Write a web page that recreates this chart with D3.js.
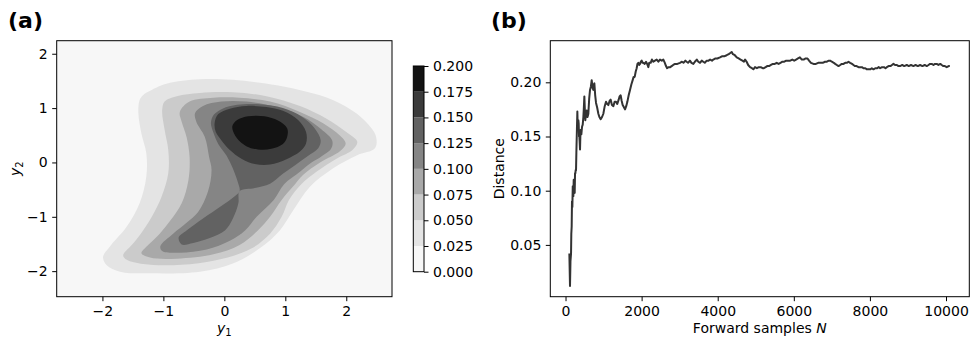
<!DOCTYPE html>
<html>
<head>
<meta charset="utf-8">
<script src="https://cdn.jsdelivr.net/npm/d3@7"></script>
<style>
  body { margin: 0; background: #fff; }
  text { font-family: "DejaVu Sans", sans-serif; }
</style>
</head>
<body>
<div id="container"></div>
<script>
const width = 971, height = 342;

/** -------------- DATA -------------- */

// contour levels of the density in panel (a)
const levels = [0, 0.025, 0.05, 0.075, 0.1, 0.125, 0.15, 0.175, 0.2];

// outline (y1, y2) of each filled level
const ring025 = [[-1.39,1.15],[-1.33,1.24],[-1.25,1.30],[-0.95,1.45],[-0.40,1.53],[0.14,1.52],[0.86,1.42],[1.35,1.30],[1.78,1.15],[2.17,0.90],[2.39,0.66],[2.49,0.47],[2.47,0.26],[2.17,0.13],[1.78,-0.11],[1.40,-0.45],[1.13,-0.88],[0.91,-1.25],[0.58,-1.58],[0.14,-1.86],[-0.40,-2.01],[-1.22,-2.04],[-1.71,-2.01],[-1.93,-1.89],[-1.99,-1.74],[-1.88,-1.55],[-1.60,-1.18],[-1.39,-0.75],[-1.28,-0.26],[-1.28,0.17],[-1.36,0.53],[-1.41,0.90]];
const ring050 = [[-0.98,0.60],[-1.02,0.96],[-0.98,1.12],[-0.78,1.22],[-0.40,1.28],[0.14,1.29],[0.69,1.22],[1.24,1.04],[1.67,0.81],[2.00,0.56],[2.18,0.38],[2.11,0.24],[1.84,0.07],[1.51,-0.17],[1.27,-0.39],[1.06,-0.69],[0.94,-1.00],[0.75,-1.31],[0.45,-1.58],[0.14,-1.72],[-0.29,-1.83],[-0.84,-1.89],[-1.33,-1.87],[-1.60,-1.79],[-1.66,-1.71],[-1.52,-1.52],[-1.37,-1.31],[-1.19,-1.00],[-1.03,-0.63],[-0.92,-0.20],[-0.92,0.23]];
const ring075 = [[-0.57,0.10],[-0.62,0.47],[-0.70,0.75],[-0.73,0.93],[-0.57,1.12],[-0.18,1.19],[0.25,1.19],[0.75,1.12],[1.24,0.93],[1.62,0.72],[1.89,0.50],[1.99,0.35],[1.90,0.21],[1.57,0.00],[1.29,-0.23],[1.13,-0.44],[0.94,-0.69],[0.75,-1.00],[0.55,-1.25],[0.25,-1.52],[-0.18,-1.69],[-0.78,-1.77],[-1.22,-1.75],[-1.36,-1.67],[-1.25,-1.52],[-1.06,-1.31],[-0.88,-1.06],[-0.70,-0.75],[-0.59,-0.33]];
const ring100 = [[-0.21,-0.14],[-0.25,0.10],[-0.32,0.47],[-0.46,0.75],[-0.48,0.91],[-0.35,1.04],[-0.05,1.12],[0.36,1.12],[0.86,1.02],[1.29,0.84],[1.59,0.61],[1.77,0.40],[1.75,0.25],[1.58,0.10],[1.43,0.00],[1.24,-0.17],[0.98,-0.40],[0.81,-0.69],[0.53,-1.00],[0.34,-1.25],[0.09,-1.44],[-0.29,-1.60],[-0.73,-1.66],[-1.02,-1.63],[-1.05,-1.54],[-0.84,-1.31],[-0.62,-1.11],[-0.43,-0.91],[-0.27,-0.54]];
const ring125 = [[0.25,-0.53],[0.22,-0.36],[0.14,-0.11],[0.04,0.12],[-0.10,0.34],[-0.18,0.55],[-0.22,0.73],[-0.17,0.88],[-0.03,0.99],[0.21,1.06],[0.58,1.07],[0.96,1.00],[1.27,0.84],[1.48,0.63],[1.58,0.41],[1.54,0.26],[1.37,0.12],[1.16,-0.05],[0.96,-0.21],[0.75,-0.39],[0.50,-0.47],[0.25,-0.53],[0.23,-0.75],[0.14,-1.03],[0.01,-1.25],[-0.24,-1.39],[-0.51,-1.48],[-0.70,-1.51],[-0.75,-1.38],[-0.62,-1.25],[-0.35,-1.03],[-0.05,-0.80],[0.17,-0.62]];
const ring150 = [[-0.16,0.72],[-0.10,0.89],[0.09,0.99],[0.36,1.04],[0.69,1.02],[0.96,0.95],[1.21,0.78],[1.34,0.56],[1.34,0.35],[1.24,0.20],[1.02,0.06],[0.75,-0.04],[0.50,-0.03],[0.28,0.07],[0.09,0.23],[-0.05,0.41],[-0.14,0.56]];
const ring175 = [[0.13,0.66],[0.21,0.78],[0.39,0.85],[0.66,0.85],[0.88,0.77],[1.03,0.63],[1.03,0.47],[0.96,0.34],[0.77,0.25],[0.55,0.24],[0.36,0.30],[0.21,0.44]];
const rings = [ring025, ring050, ring075, ring100, ring125, ring150, ring175];

const densityTicksX = [-2, -1, 0, 1, 2];
const densityTicksY = [-2, -1, 0, 1, 2];

// panel (b): distance against number of forward samples
const samplesN = [101,118,130,145,152,162,170,180,190,197,206,215,223,232,241,250,258,267,276,285,293,302,311,320,329,338,346,355,364,372,381,390,399,416,434,452,469,480,495,508,521,538,556,578,600,622,644,666,688,710,731,745,758,780,802,830,863,890,924,960,994,1030,1064,1095,1126,1160,1187,1220,1257,1290,1327,1360,1397,1420,1450,1475,1502,1535,1564,1595,1625,1660,1695,1730,1765,1790,1818,1845,1870,1890,1914,1936,1958,1980,2002,2025,2045,2080,2116,2145,2177,2200,2238,2270,2308,2350,2396,2440,2483,2530,2571,2610,2641,2670,2702,2750,2790,2830,2878,2940,3009,3060,3100,3150,3184,3220,3270,3310,3359,3400,3450,3490,3535,3580,3620,3660,3710,3760,3800,3850,3885,3940,3990,4060,4110,4170,4235,4290,4330,4367,4400,4450,4500,4550,4600,4650,4690,4720,4760,4800,4850,4900,4936,4980,5030,5080,5130,5180,5213,5260,5300,5350,5400,5450,5500,5550,5600,5650,5700,5750,5800,5850,5905,5960,6010,6060,6110,6160,6210,6260,6310,6360,6400,6450,6517,6580,6640,6700,6760,6820,6870,6920,6955,7000,7050,7087,7130,7175,7220,7260,7306,7350,7400,7437,7480,7530,7569,7610,7650,7700,7750,7790,7831,7880,7920,7963,8010,8050,8094,8140,8190,8230,8269,8320,8370,8410,8444,8490,8540,8580,8619,8660,8710,8750,8794,8850,8900,8969,9020,9080,9144,9200,9260,9319,9380,9440,9494,9540,9580,9625,9670,9710,9757,9800,9850,9888,9930,9970,10019,10070,10100];
const distance = [0.042,0.012,0.035,0.042,0.060,0.067,0.090,0.085,0.104,0.100,0.095,0.110,0.110,0.099,0.098,0.116,0.116,0.119,0.119,0.135,0.147,0.160,0.173,0.160,0.156,0.165,0.162,0.150,0.150,0.145,0.138,0.150,0.156,0.152,0.159,0.161,0.168,0.175,0.187,0.175,0.165,0.172,0.174,0.168,0.171,0.185,0.193,0.196,0.202,0.195,0.193,0.198,0.199,0.188,0.181,0.177,0.171,0.168,0.166,0.168,0.171,0.178,0.182,0.180,0.179,0.183,0.184,0.179,0.178,0.182,0.182,0.180,0.184,0.187,0.188,0.183,0.179,0.177,0.175,0.178,0.182,0.188,0.193,0.198,0.202,0.205,0.205,0.210,0.213,0.217,0.218,0.216,0.217,0.219,0.220,0.218,0.218,0.217,0.219,0.217,0.214,0.218,0.218,0.221,0.219,0.220,0.221,0.219,0.221,0.220,0.221,0.218,0.215,0.213,0.214,0.214,0.215,0.216,0.217,0.217,0.218,0.219,0.218,0.220,0.219,0.218,0.220,0.218,0.217,0.219,0.221,0.219,0.218,0.220,0.219,0.218,0.220,0.220,0.221,0.220,0.221,0.222,0.222,0.223,0.224,0.224,0.225,0.226,0.227,0.228,0.226,0.225,0.223,0.222,0.221,0.220,0.219,0.221,0.219,0.216,0.214,0.213,0.212,0.214,0.213,0.214,0.214,0.213,0.213,0.214,0.215,0.215,0.216,0.217,0.217,0.218,0.217,0.218,0.219,0.219,0.220,0.220,0.220,0.221,0.220,0.221,0.222,0.223,0.221,0.221,0.222,0.222,0.220,0.218,0.217,0.217,0.218,0.218,0.218,0.219,0.219,0.220,0.220,0.219,0.218,0.217,0.216,0.215,0.216,0.217,0.217,0.218,0.218,0.219,0.218,0.217,0.216,0.215,0.215,0.214,0.214,0.214,0.213,0.213,0.212,0.212,0.212,0.213,0.212,0.213,0.213,0.214,0.213,0.214,0.214,0.213,0.214,0.215,0.215,0.216,0.217,0.216,0.216,0.215,0.215,0.216,0.215,0.216,0.215,0.216,0.215,0.216,0.215,0.216,0.215,0.216,0.215,0.216,0.217,0.217,0.216,0.217,0.217,0.216,0.217,0.216,0.215,0.215,0.214,0.215,0.215];
const samplesTicks = [0, 2000, 4000, 6000, 8000, 10000];
const distanceTicks = [0.05, 0.10, 0.15, 0.20];

/** -------------- SCALES -------------- */

const boxA = { left: 56.7, right: 392, top: 40.7, bottom: 296.7 };
const boxB = { left: 550.3, right: 969.3, top: 40.7, bottom: 296.7 };
const cbar = { left: 413.3, right: 424, top: 66, bottom: 271.7 };

const xA = d3.scaleLinear([-2.75, 2.75], [boxA.left, boxA.right]);
const yA = d3.scaleLinear([-2.47, 2.24], [boxA.bottom, boxA.top]);
const xB = d3.scaleLinear([-400, 10612], [boxB.left, boxB.right]);
const yB = d3.scaleLinear([0.0022, 0.2384], [boxB.bottom, boxB.top]);
const yC = d3.scaleLinear([0, 0.2], [cbar.bottom, cbar.top]);

const band = i => d3.interpolateGreys((i + 0.5) / (levels.length - 1));

/** -------------- APPEND TO DOM -------------- */

const svg = d3.select("#container")
  .append("svg")
  .attr("width", width)
  .attr("height", height);

const fontSize = 14, subSize = 10, tick = 4.5;

// ---- panel (a): filled contours
svg.append("rect")
    .attr("x", boxA.left).attr("y", boxA.top)
    .attr("width", boxA.right - boxA.left).attr("height", boxA.bottom - boxA.top)
    .attr("fill", band(0));

const ringLine = d3.line()
    .x(d => xA(d[0]))
    .y(d => yA(d[1]))
    .curve(d3.curveCatmullRomClosed.alpha(0.5));

svg.append("g")
  .selectAll("path")
  .data(rings)
  .join("path")
    .attr("d", ringLine)
    .attr("fill", (d, i) => band(i + 1));

function styleAxis(g) {
  g.select(".domain").remove();
  g.selectAll("line").attr("stroke", "#000").attr("stroke-width", 1);
  g.selectAll("text").attr("font-size", fontSize).attr("fill", "#000")
    .attr("font-family", "DejaVu Sans, sans-serif");
}

svg.append("g")
    .attr("transform", `translate(0,${boxA.bottom})`)
    .call(d3.axisBottom(xA).tickValues(densityTicksX).tickFormat(d3.format("d")).tickSize(tick).tickPadding(tick))
    .call(styleAxis);
svg.append("g")
    .attr("transform", `translate(${boxA.left},0)`)
    .call(d3.axisLeft(yA).tickValues(densityTicksY).tickFormat(d3.format("d")).tickSize(tick).tickPadding(tick))
    .call(styleAxis);

svg.append("rect")
    .attr("x", boxA.left).attr("y", boxA.top)
    .attr("width", boxA.right - boxA.left).attr("height", boxA.bottom - boxA.top)
    .attr("fill", "none").attr("stroke", "#000").attr("stroke-width", 1);

// colour bar
svg.append("g")
  .selectAll("rect")
  .data(d3.range(levels.length - 1))
  .join("rect")
    .attr("x", cbar.left)
    .attr("width", cbar.right - cbar.left)
    .attr("y", i => yC(levels[i + 1]))
    .attr("height", i => yC(levels[i]) - yC(levels[i + 1]))
    .attr("fill", i => band(i));

svg.append("g")
    .attr("transform", `translate(${cbar.right},0)`)
    .call(d3.axisRight(yC).tickValues(levels).tickFormat(d3.format(".3f")).tickSize(tick).tickPadding(tick))
    .call(styleAxis);

svg.append("rect")
    .attr("x", cbar.left).attr("y", cbar.top)
    .attr("width", cbar.right - cbar.left).attr("height", cbar.bottom - cbar.top)
    .attr("fill", "none").attr("stroke", "#000").attr("stroke-width", 1);

// axis labels (a)
const y1Label = svg.append("text")
    .attr("x", (boxA.left + boxA.right) / 2)
    .attr("y", 333)
    .attr("text-anchor", "middle")
    .attr("font-size", fontSize);
y1Label.append("tspan").attr("font-style", "italic").text("y");
y1Label.append("tspan").attr("font-size", subSize).attr("dy", 2.5).text("1");

const y2Label = svg.append("text")
    .attr("transform", `translate(20,${(boxA.top + boxA.bottom) / 2}) rotate(-90)`)
    .attr("text-anchor", "middle")
    .attr("font-size", fontSize);
y2Label.append("tspan").attr("font-style", "italic").text("y");
y2Label.append("tspan").attr("font-size", subSize).attr("dy", 2.5).text("2");

// ---- panel (b): distance curve
const distLine = d3.line()
    .x(d => xB(d[0]))
    .y(d => yB(d[1]));

svg.append("path")
    .datum(d3.zip(samplesN, distance))
    .attr("d", distLine)
    .attr("fill", "none")
    .attr("stroke", "#333")
    .attr("stroke-width", 2)
    .attr("stroke-linejoin", "round");

svg.append("g")
    .attr("transform", `translate(0,${boxB.bottom})`)
    .call(d3.axisBottom(xB).tickValues(samplesTicks).tickFormat(d3.format("d")).tickSize(tick).tickPadding(tick))
    .call(styleAxis);
svg.append("g")
    .attr("transform", `translate(${boxB.left},0)`)
    .call(d3.axisLeft(yB).tickValues(distanceTicks).tickFormat(d3.format(".2f")).tickSize(tick).tickPadding(tick))
    .call(styleAxis);

svg.append("rect")
    .attr("x", boxB.left).attr("y", boxB.top)
    .attr("width", boxB.right - boxB.left).attr("height", boxB.bottom - boxB.top)
    .attr("fill", "none").attr("stroke", "#000").attr("stroke-width", 1);

const nLabel = svg.append("text")
    .attr("x", (boxB.left + boxB.right) / 2)
    .attr("y", 333)
    .attr("text-anchor", "middle")
    .attr("font-size", fontSize);
nLabel.append("tspan").text("Forward samples ");
nLabel.append("tspan").attr("font-style", "italic").text("N");

svg.append("text")
    .attr("transform", `translate(504,${(boxB.top + boxB.bottom) / 2}) rotate(-90)`)
    .attr("text-anchor", "middle")
    .attr("font-size", fontSize)
    .text("Distance");

// panel letters
svg.append("text").attr("x", 8).attr("y", 28)
    .attr("font-size", 22).attr("font-weight", "bold").text("(a)");
svg.append("text").attr("x", 491).attr("y", 28)
    .attr("font-size", 22).attr("font-weight", "bold").text("(b)");
</script>
</body>
</html>
